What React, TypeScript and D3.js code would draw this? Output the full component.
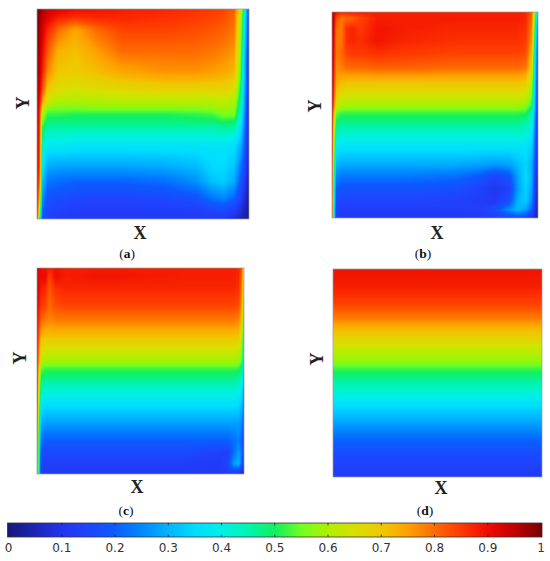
import React, { useMemo } from "react";
import * as d3 from "d3";

// ---- colour map ----
const CMAP_STOPS = [0, 0.1, 0.15, 0.2, 0.25, 0.3, 0.35, 0.4, 0.45, 0.5, 0.55, 0.6, 0.65, 0.7, 0.75, 0.8, 0.85, 0.9, 0.95, 1];
const CMAP_COLORS = ["#17177a", "#2233ee", "#1f44ff", "#0b5cff", "#0088ff", "#00b4ff", "#00dcff", "#00f0e8", "#00f5b0", "#10f060", "#70ff20", "#b0f000", "#d8e000", "#f0c800", "#ffa000", "#ff6a00", "#ff3800", "#f00a00", "#c00000", "#780000"];
const TICK_VALUES = [0, 0.1, 0.2, 0.3, 0.4, 0.5, 0.6, 0.7, 0.8, 0.9, 1];
const TICK_LABELS = ["0", "0.1", "0.2", "0.3", "0.4", "0.5", "0.6", "0.7", "0.8", "0.9", "1"];

// ---- panel (a) temperature samples: columns A_X (left->right), rows A_Y (top->bottom) ----
const A_X = [0, 0.012, 0.025, 0.05, 0.1, 0.18, 0.28, 0.4, 0.6, 0.75, 0.83, 0.88, 0.93, 0.96, 0.98, 1];
const A_Y = [0, 0.04, 0.1, 0.2, 0.3, 0.38, 0.44, 0.47, 0.5, 0.56, 0.65, 0.75, 0.82, 0.9, 0.96, 1];
const A_T = [
  [1.0, 0.99, 0.97, 0.94, 0.92, 0.9, 0.89, 0.88, 0.87, 0.86, 0.85, 0.84, 0.82, 0.66, 0.42, 0.15],
  [0.99, 0.98, 0.95, 0.92, 0.88, 0.86, 0.87, 0.87, 0.86, 0.85, 0.84, 0.83, 0.8, 0.62, 0.38, 0.13],
  [0.99, 0.97, 0.93, 0.87, 0.8, 0.74, 0.8, 0.84, 0.84, 0.83, 0.82, 0.81, 0.79, 0.6, 0.36, 0.12],
  [0.98, 0.96, 0.91, 0.82, 0.73, 0.71, 0.75, 0.8, 0.8, 0.8, 0.79, 0.78, 0.76, 0.57, 0.33, 0.1],
  [0.98, 0.95, 0.88, 0.77, 0.7, 0.69, 0.71, 0.74, 0.76, 0.76, 0.75, 0.74, 0.72, 0.54, 0.31, 0.09],
  [0.97, 0.93, 0.84, 0.7, 0.66, 0.65, 0.66, 0.67, 0.68, 0.68, 0.68, 0.68, 0.66, 0.5, 0.29, 0.08],
  [0.97, 0.9, 0.76, 0.63, 0.6, 0.6, 0.6, 0.61, 0.61, 0.61, 0.61, 0.62, 0.6, 0.47, 0.27, 0.07],
  [0.96, 0.88, 0.68, 0.57, 0.56, 0.56, 0.57, 0.57, 0.57, 0.57, 0.58, 0.59, 0.58, 0.45, 0.26, 0.07],
  [0.96, 0.87, 0.6, 0.52, 0.52, 0.51, 0.51, 0.51, 0.51, 0.52, 0.53, 0.56, 0.56, 0.42, 0.25, 0.06],
  [0.95, 0.86, 0.52, 0.46, 0.46, 0.46, 0.46, 0.46, 0.46, 0.46, 0.46, 0.47, 0.46, 0.37, 0.23, 0.06],
  [0.95, 0.85, 0.44, 0.38, 0.38, 0.37, 0.37, 0.37, 0.37, 0.37, 0.37, 0.37, 0.36, 0.3, 0.2, 0.05],
  [0.94, 0.84, 0.38, 0.29, 0.28, 0.28, 0.28, 0.28, 0.29, 0.31, 0.35, 0.35, 0.32, 0.24, 0.15, 0.04],
  [0.93, 0.8, 0.32, 0.23, 0.22, 0.21, 0.21, 0.21, 0.22, 0.26, 0.32, 0.33, 0.29, 0.2, 0.12, 0.03],
  [0.92, 0.72, 0.27, 0.18, 0.17, 0.16, 0.15, 0.15, 0.16, 0.18, 0.23, 0.25, 0.21, 0.14, 0.08, 0.02],
  [0.91, 0.62, 0.22, 0.15, 0.14, 0.13, 0.13, 0.13, 0.13, 0.13, 0.15, 0.16, 0.13, 0.09, 0.05, 0.02],
  [0.9, 0.52, 0.18, 0.14, 0.13, 0.12, 0.12, 0.12, 0.12, 0.12, 0.12, 0.11, 0.08, 0.05, 0.03, 0.02],
];

// ---- panel (b) ----
const B_X = [0, 0.008, 0.02, 0.045, 0.07, 0.1, 0.14, 0.22, 0.35, 0.6, 0.72, 0.79, 0.86, 0.9, 0.94, 0.97, 0.985, 1];
const B_Y = [0, 0.03, 0.08, 0.14, 0.2, 0.27, 0.34, 0.41, 0.46, 0.49, 0.55, 0.65, 0.74, 0.8, 0.86, 0.92, 0.96, 1];
const B_T = [
  [0.98, 0.95, 0.9, 0.88, 0.88, 0.88, 0.88, 0.88, 0.88, 0.88, 0.88, 0.88, 0.88, 0.88, 0.87, 0.82, 0.6, 0.3],
  [0.98, 0.94, 0.84, 0.79, 0.8, 0.81, 0.84, 0.88, 0.88, 0.88, 0.88, 0.88, 0.88, 0.88, 0.87, 0.8, 0.55, 0.25],
  [0.98, 0.93, 0.8, 0.78, 0.86, 0.87, 0.85, 0.89, 0.88, 0.87, 0.87, 0.87, 0.87, 0.87, 0.86, 0.78, 0.5, 0.2],
  [0.97, 0.92, 0.79, 0.79, 0.86, 0.87, 0.86, 0.89, 0.87, 0.86, 0.86, 0.86, 0.86, 0.86, 0.85, 0.76, 0.45, 0.18],
  [0.97, 0.91, 0.79, 0.8, 0.84, 0.85, 0.85, 0.86, 0.85, 0.84, 0.84, 0.84, 0.84, 0.84, 0.83, 0.72, 0.4, 0.15],
  [0.97, 0.9, 0.77, 0.78, 0.8, 0.8, 0.8, 0.81, 0.81, 0.8, 0.8, 0.8, 0.8, 0.8, 0.79, 0.68, 0.38, 0.12],
  [0.96, 0.88, 0.74, 0.72, 0.71, 0.71, 0.71, 0.71, 0.71, 0.71, 0.71, 0.71, 0.71, 0.71, 0.7, 0.6, 0.35, 0.1],
  [0.96, 0.86, 0.69, 0.65, 0.64, 0.64, 0.64, 0.64, 0.64, 0.64, 0.64, 0.64, 0.64, 0.64, 0.63, 0.55, 0.32, 0.09],
  [0.95, 0.82, 0.63, 0.59, 0.58, 0.58, 0.58, 0.58, 0.58, 0.58, 0.58, 0.58, 0.58, 0.58, 0.57, 0.5, 0.3, 0.08],
  [0.95, 0.76, 0.55, 0.52, 0.52, 0.52, 0.52, 0.52, 0.52, 0.52, 0.52, 0.52, 0.52, 0.52, 0.51, 0.45, 0.28, 0.08],
  [0.94, 0.7, 0.48, 0.46, 0.46, 0.46, 0.46, 0.46, 0.46, 0.46, 0.46, 0.46, 0.46, 0.46, 0.45, 0.4, 0.25, 0.07],
  [0.93, 0.64, 0.39, 0.37, 0.37, 0.37, 0.37, 0.37, 0.37, 0.37, 0.37, 0.37, 0.37, 0.37, 0.37, 0.34, 0.22, 0.06],
  [0.92, 0.58, 0.31, 0.29, 0.29, 0.29, 0.29, 0.29, 0.29, 0.29, 0.28, 0.27, 0.28, 0.31, 0.34, 0.3, 0.18, 0.05],
  [0.92, 0.54, 0.25, 0.23, 0.23, 0.23, 0.23, 0.23, 0.23, 0.22, 0.19, 0.15, 0.18, 0.28, 0.35, 0.3, 0.16, 0.04],
  [0.91, 0.5, 0.2, 0.18, 0.18, 0.18, 0.18, 0.18, 0.18, 0.17, 0.14, 0.11, 0.14, 0.27, 0.34, 0.28, 0.14, 0.04],
  [0.9, 0.47, 0.17, 0.15, 0.15, 0.15, 0.15, 0.15, 0.15, 0.14, 0.13, 0.12, 0.18, 0.3, 0.33, 0.25, 0.12, 0.03],
  [0.9, 0.45, 0.15, 0.13, 0.13, 0.13, 0.13, 0.13, 0.13, 0.13, 0.14, 0.17, 0.26, 0.31, 0.28, 0.2, 0.1, 0.03],
  [0.9, 0.44, 0.14, 0.12, 0.12, 0.12, 0.12, 0.12, 0.12, 0.12, 0.12, 0.13, 0.15, 0.16, 0.14, 0.1, 0.06, 0.03],
];

// ---- panel (c) ----
const C_X = [0, 0.008, 0.02, 0.04, 0.06, 0.09, 0.14, 0.3, 0.7, 0.88, 0.92, 0.95, 0.975, 0.99, 1];
const C_Y = [0, 0.04, 0.1, 0.18, 0.26, 0.34, 0.42, 0.46, 0.49, 0.55, 0.65, 0.75, 0.84, 0.9, 0.95, 1];
const C_T = [
  [0.95, 0.92, 0.9, 0.89, 0.88, 0.89, 0.88, 0.88, 0.88, 0.88, 0.88, 0.88, 0.87, 0.82, 0.6],
  [0.95, 0.92, 0.9, 0.91, 0.84, 0.9, 0.88, 0.89, 0.88, 0.88, 0.88, 0.88, 0.87, 0.8, 0.55],
  [0.95, 0.91, 0.88, 0.87, 0.82, 0.86, 0.87, 0.87, 0.87, 0.87, 0.87, 0.87, 0.86, 0.78, 0.5],
  [0.94, 0.89, 0.85, 0.84, 0.8, 0.83, 0.84, 0.84, 0.84, 0.84, 0.84, 0.84, 0.83, 0.75, 0.45],
  [0.94, 0.86, 0.8, 0.78, 0.77, 0.78, 0.78, 0.78, 0.78, 0.78, 0.78, 0.78, 0.77, 0.7, 0.4],
  [0.93, 0.82, 0.72, 0.7, 0.7, 0.7, 0.7, 0.7, 0.7, 0.7, 0.7, 0.7, 0.69, 0.63, 0.36],
  [0.93, 0.78, 0.64, 0.62, 0.62, 0.62, 0.62, 0.62, 0.62, 0.62, 0.62, 0.62, 0.61, 0.56, 0.32],
  [0.92, 0.76, 0.6, 0.58, 0.58, 0.58, 0.58, 0.58, 0.58, 0.58, 0.58, 0.58, 0.57, 0.52, 0.3],
  [0.92, 0.72, 0.54, 0.52, 0.52, 0.52, 0.52, 0.52, 0.52, 0.52, 0.52, 0.52, 0.51, 0.47, 0.27],
  [0.92, 0.68, 0.48, 0.46, 0.46, 0.46, 0.46, 0.46, 0.46, 0.46, 0.46, 0.46, 0.45, 0.41, 0.24],
  [0.91, 0.62, 0.39, 0.37, 0.37, 0.37, 0.37, 0.37, 0.37, 0.37, 0.37, 0.37, 0.36, 0.33, 0.2],
  [0.91, 0.56, 0.3, 0.28, 0.28, 0.28, 0.28, 0.28, 0.28, 0.28, 0.28, 0.28, 0.28, 0.25, 0.15],
  [0.9, 0.5, 0.22, 0.2, 0.2, 0.2, 0.2, 0.2, 0.2, 0.2, 0.2, 0.22, 0.24, 0.2, 0.11],
  [0.9, 0.46, 0.18, 0.16, 0.16, 0.16, 0.16, 0.16, 0.16, 0.14, 0.13, 0.22, 0.28, 0.22, 0.08],
  [0.9, 0.44, 0.15, 0.13, 0.13, 0.13, 0.13, 0.13, 0.13, 0.12, 0.15, 0.28, 0.3, 0.2, 0.06],
  [0.9, 0.42, 0.14, 0.12, 0.12, 0.12, 0.12, 0.12, 0.12, 0.12, 0.12, 0.12, 0.1, 0.06, 0.04],
];

// ---- panel (d): purely stratified profile ----
const D_X = [0, 1];
const D_Y = [0, 0.08, 0.17, 0.24, 0.29, 0.34, 0.4, 0.45, 0.48, 0.54, 0.59, 0.65, 0.74, 0.82, 0.9, 1];
const D_PROFILE = [0.89, 0.88, 0.84, 0.78, 0.72, 0.67, 0.61, 0.57, 0.52, 0.46, 0.42, 0.36, 0.28, 0.21, 0.16, 0.12];

const PANEL_LABELS = ["a", "b", "c", "d"];

const colorScale = d3
  .scaleLinear<string>()
  .domain(CMAP_STOPS)
  .range(CMAP_COLORS)
  .interpolate(d3.interpolateRgb)
  .clamp(true);

function buildLut(n: number) {
  const lut = new Uint8ClampedArray(n * 3);
  for (let k = 0; k < n; k++) {
    const c = d3.rgb(colorScale(k / (n - 1)));
    lut[k * 3] = c.r;
    lut[k * 3 + 1] = c.g;
    lut[k * 3 + 2] = c.b;
  }
  return lut;
}

function locate(arr: number[], u: number) {
  let j = d3.bisectRight(arr, u) - 1;
  j = Math.max(0, Math.min(arr.length - 2, j));
  const t = Math.max(0, Math.min(1, (u - arr[j]) / (arr[j + 1] - arr[j])));
  return [j, t];
}

function fieldImage(xs: number[], ys: number[], grid: number[][], w: number, h: number, lut: Uint8ClampedArray) {
  const S = 2;
  const W = Math.round(w * S);
  const H = Math.round(h * S);
  const canvas = document.createElement("canvas");
  canvas.width = W;
  canvas.height = H;
  const ctx = canvas.getContext("2d")!;
  const img = ctx.createImageData(W, H);
  const sx = d3.scaleLinear().domain([0, 1]).range([0, W]);
  const sy = d3.scaleLinear().domain([0, 1]).range([0, H]);
  const cols = d3.range(W).map((i) => locate(xs, sx.invert(i + 0.5)));
  const n = lut.length / 3;
  for (let r = 0; r < H; r++) {
    const [jy, ty] = locate(ys, sy.invert(r + 0.5));
    const row0 = grid[jy];
    const row1 = grid[jy + 1];
    for (let i = 0; i < W; i++) {
      const [jx, tx] = cols[i];
      const v0 = row0[jx] * (1 - tx) + row0[jx + 1] * tx;
      const v1 = row1[jx] * (1 - tx) + row1[jx + 1] * tx;
      const v = Math.max(0, Math.min(1, v0 * (1 - ty) + v1 * ty));
      const k = Math.round(v * (n - 1)) * 3;
      const p = (r * W + i) * 4;
      img.data[p] = lut[k];
      img.data[p + 1] = lut[k + 1];
      img.data[p + 2] = lut[k + 2];
      img.data[p + 3] = 255;
    }
  }
  ctx.putImageData(img, 0, 0);
  return canvas.toDataURL();
}

const LAYOUT = [
  { x0: 37, x1: 249, y0: 9, y1: 219, yl: [23, 103], xl: [140, 233], cap: [127, 253] },
  { x0: 332, x1: 538, y0: 12, y1: 218, yl: [315, 106], xl: [437, 233], cap: [423, 253] },
  { x0: 37, x1: 244, y0: 268, y1: 474, yl: [20, 358], xl: [137, 487], cap: [126, 510] },
  { x0: 333, x1: 542, y0: 269, y1: 477, yl: [317, 359], xl: [441, 488], cap: [425, 510] },
];

export default function App() {
  const fields = useMemo(() => {
    const lut = buildLut(1024);
    const data = [
      { xs: A_X, ys: A_Y, grid: A_T },
      { xs: B_X, ys: B_Y, grid: B_T },
      { xs: C_X, ys: C_Y, grid: C_T },
      { xs: D_X, ys: D_Y, grid: D_PROFILE.map((v) => [v, v]) },
    ];
    return data.map((d, i) => {
      const L = LAYOUT[i];
      return fieldImage(d.xs, d.ys, d.grid, L.x1 - L.x0, L.y1 - L.y0, lut);
    });
  }, []);

  const cbX = d3.scaleLinear().domain([0, 1]).range([8.5, 541]);
  const cbTop = 523;
  const cbH = 14;
  const serif = "'Liberation Serif', 'Times New Roman', serif";

  return (
    <svg
      width={550}
      height={561}
      style={{ position: "absolute", left: 0, top: 0, background: "#fff" }}
      xmlns="http://www.w3.org/2000/svg"
    >
      <defs>
        <linearGradient id="cbar" x1="0" x2="1" y1="0" y2="0">
          {CMAP_STOPS.map((s, i) => (
            <stop key={i} offset={s} stopColor={CMAP_COLORS[i]} />
          ))}
        </linearGradient>
      </defs>
      <rect width={550} height={561} fill="#fff" />
      {LAYOUT.map((L, i) => (
        <g key={i}>
          <image
            href={fields[i]}
            x={L.x0}
            y={L.y0}
            width={L.x1 - L.x0}
            height={L.y1 - L.y0}
            preserveAspectRatio="none"
          />
          <rect
            x={L.x0}
            y={L.y0}
            width={L.x1 - L.x0}
            height={L.y1 - L.y0}
            fill="none"
            stroke="#9a9a9a"
            strokeWidth={0.7}
          />
          <text
            transform={`translate(${L.yl[0]},${L.yl[1]}) rotate(-90)`}
            textAnchor="middle"
            dominantBaseline="central"
            fontFamily={serif}
            fontWeight="bold"
            fontSize={18}
            fill="#222"
          >
            Y
          </text>
          <text
            x={L.xl[0]}
            y={L.xl[1]}
            textAnchor="middle"
            dominantBaseline="central"
            fontFamily={serif}
            fontWeight="bold"
            fontSize={18}
            fill="#222"
          >
            X
          </text>
          <text
            x={L.cap[0]}
            y={L.cap[1]}
            textAnchor="middle"
            dominantBaseline="central"
            fontFamily={serif}
            fontSize={13.5}
            fill="#111"
          >
            (<tspan fontWeight="bold">{PANEL_LABELS[i]}</tspan>)
          </text>
        </g>
      ))}
      <rect x={cbX(0) - 1} y={cbTop} width={cbX(1) - cbX(0) + 2} height={cbH} fill="url(#cbar)" stroke="#333" strokeWidth={0.8} />
      {TICK_VALUES.map((v, i) => (
        <g key={i}>
          {i > 0 && i < TICK_VALUES.length - 1 && (
            <>
              <line x1={cbX(v)} x2={cbX(v)} y1={cbTop} y2={cbTop + 2.5} stroke="#222" strokeWidth={0.8} />
              <line x1={cbX(v)} x2={cbX(v)} y1={cbTop + cbH - 2.5} y2={cbTop + cbH} stroke="#222" strokeWidth={0.8} />
            </>
          )}
          <text
            x={cbX(v)}
            y={548}
            textAnchor="middle"
            dominantBaseline="central"
            fontFamily="'DejaVu Sans', sans-serif"
            fontSize={12}
            fill="#333"
          >
            {TICK_LABELS[i]}
          </text>
        </g>
      ))}
    </svg>
  );
}
